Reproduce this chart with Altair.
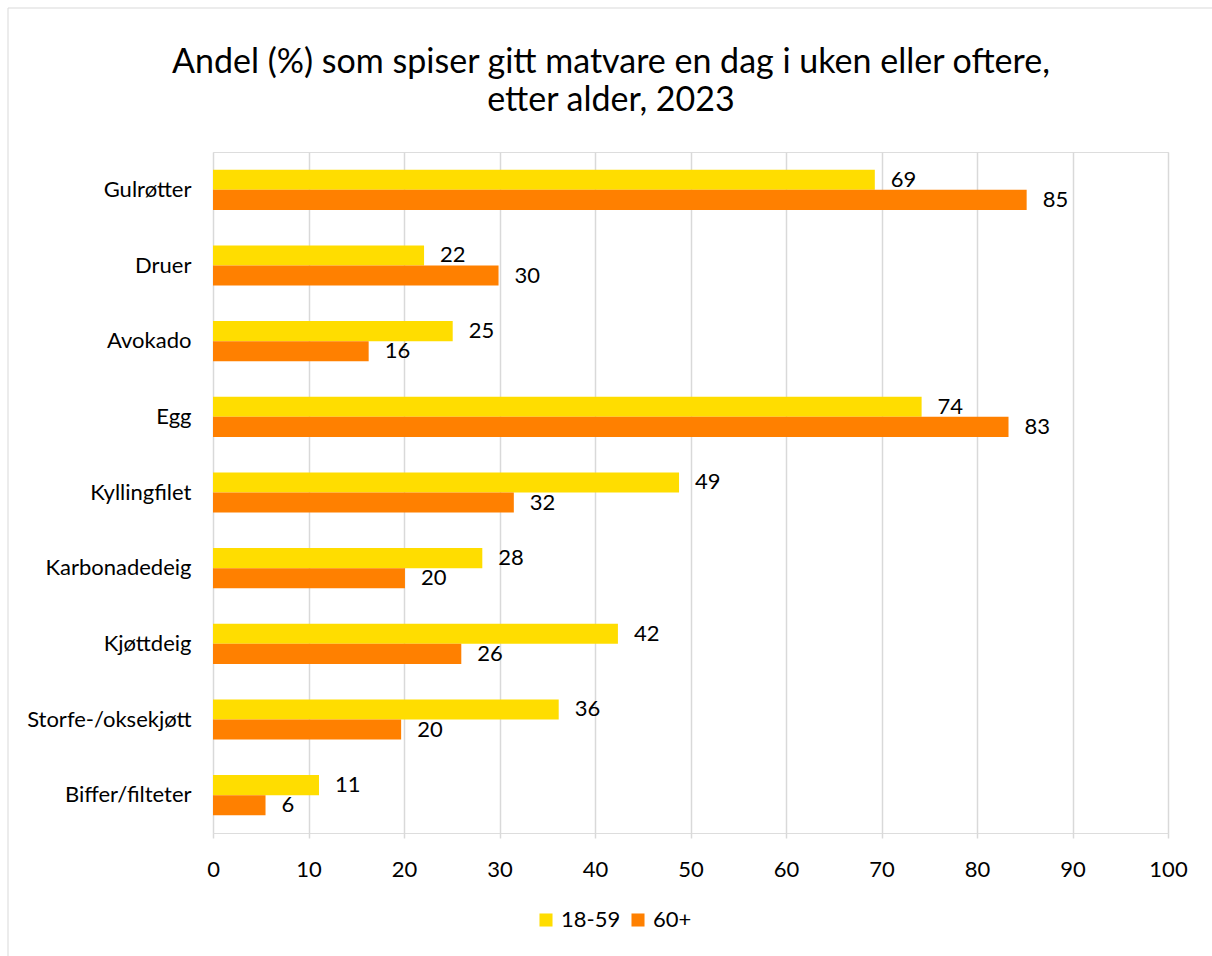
import altair as alt
import pandas as pd

categories = ["Gulrøtter", "Druer", "Avokado", "Egg", "Kyllingfilet",
              "Karbonadedeig", "Kjøttdeig", "Storfe-/oksekjøtt", "Biffer/filteter"]
series = ["18-59", "60+"]
values_18_59 = [69.3, 22.1, 25.1, 74.2, 48.8, 28.2, 42.4, 36.2, 11.1]
values_60 = [85.2, 29.9, 16.3, 83.3, 31.5, 20.1, 26.0, 19.7, 5.5]
colors = ["#FFDD00", "#FF8000"]
title_lines = ["Andel (%) som spiser gitt matvare en dag i uken eller oftere,",
               "etter alder, 2023"]

rows = []
for c, a, b in zip(categories, values_18_59, values_60):
    rows.append({"kategori": c, "gruppe": series[0], "verdi": a})
    rows.append({"kategori": c, "gruppe": series[1], "verdi": b})
df = pd.DataFrame(rows)

FONT = "Lato"
FS = 22

y_enc = alt.Y("kategori:N", sort=categories,
              scale=alt.Scale(paddingInner=0.47, paddingOuter=0.235),
              axis=alt.Axis(title=None, ticks=False, domain=False, labelPadding=22,
                            labelFontSize=FS, labelColor="#000000", labelFont=FONT))
x_enc = alt.X("verdi:Q", scale=alt.Scale(domain=[0, 100], nice=False),
              axis=alt.Axis(title=None, values=list(range(0, 101, 10)), grid=True,
                            gridColor="#D9D9D9", gridWidth=1.5, domain=False,
                            tickColor="#D9D9D9", tickSize=5, tickWidth=1.5,
                            labelFlush=False,
                            labelPadding=21, labelFontSize=FS, labelColor="#000000",
                            labelFont=FONT))

base = alt.Chart(df).encode(
    y=y_enc,
    yOffset=alt.YOffset("gruppe:N", sort=series),
)

bars = base.mark_bar().encode(
    x=x_enc,
    color=alt.Color("gruppe:N", sort=series,
                    scale=alt.Scale(domain=series, range=colors),
                    legend=alt.Legend(title=None, orient="none", direction="horizontal",
                                      legendX=322, legendY=757, symbolType="square",
                                      symbolSize=170, symbolStrokeWidth=0,
                                      labelFontSize=FS, labelFont=FONT,
                                      labelColor="#000000", columnPadding=6,
                                      labelOffset=4)),
)

labels = base.mark_text(align="left", baseline="middle", dx=16, fontSize=FS,
                        font=FONT, color="#000000").encode(
    x=alt.X("verdi:Q"),
    text=alt.Text("verdi:Q", format=".0f"),
)

one = pd.DataFrame({"a": [0]})
border = alt.Chart(one).mark_rect(
    fill=None, stroke="#D9D9D9", strokeWidth=1
).encode(x=alt.value(-205), x2=alt.value(1100), y=alt.value(-144), y2=alt.value(900))

title1 = alt.Chart(one).mark_text(
    text=title_lines[0], fontSize=34, font=FONT, color="#000000",
    align="center", baseline="middle"
).encode(x=alt.value(398), y=alt.value(-89))
title2 = alt.Chart(one).mark_text(
    text=title_lines[1], fontSize=34, font=FONT, color="#000000",
    align="center", baseline="middle"
).encode(x=alt.value(398), y=alt.value(-51))

chart = alt.layer(border, title1, title2, bars, labels).properties(
    width=955, height=681,
    autosize=alt.AutoSizeParams(type="none"),
    padding={"left": 213, "top": 152, "right": 44, "bottom": 123},
).configure_view(stroke=None).configure(background="white")

chart.save("out.html", embed_options={"renderer": "svg", "actions": False})
